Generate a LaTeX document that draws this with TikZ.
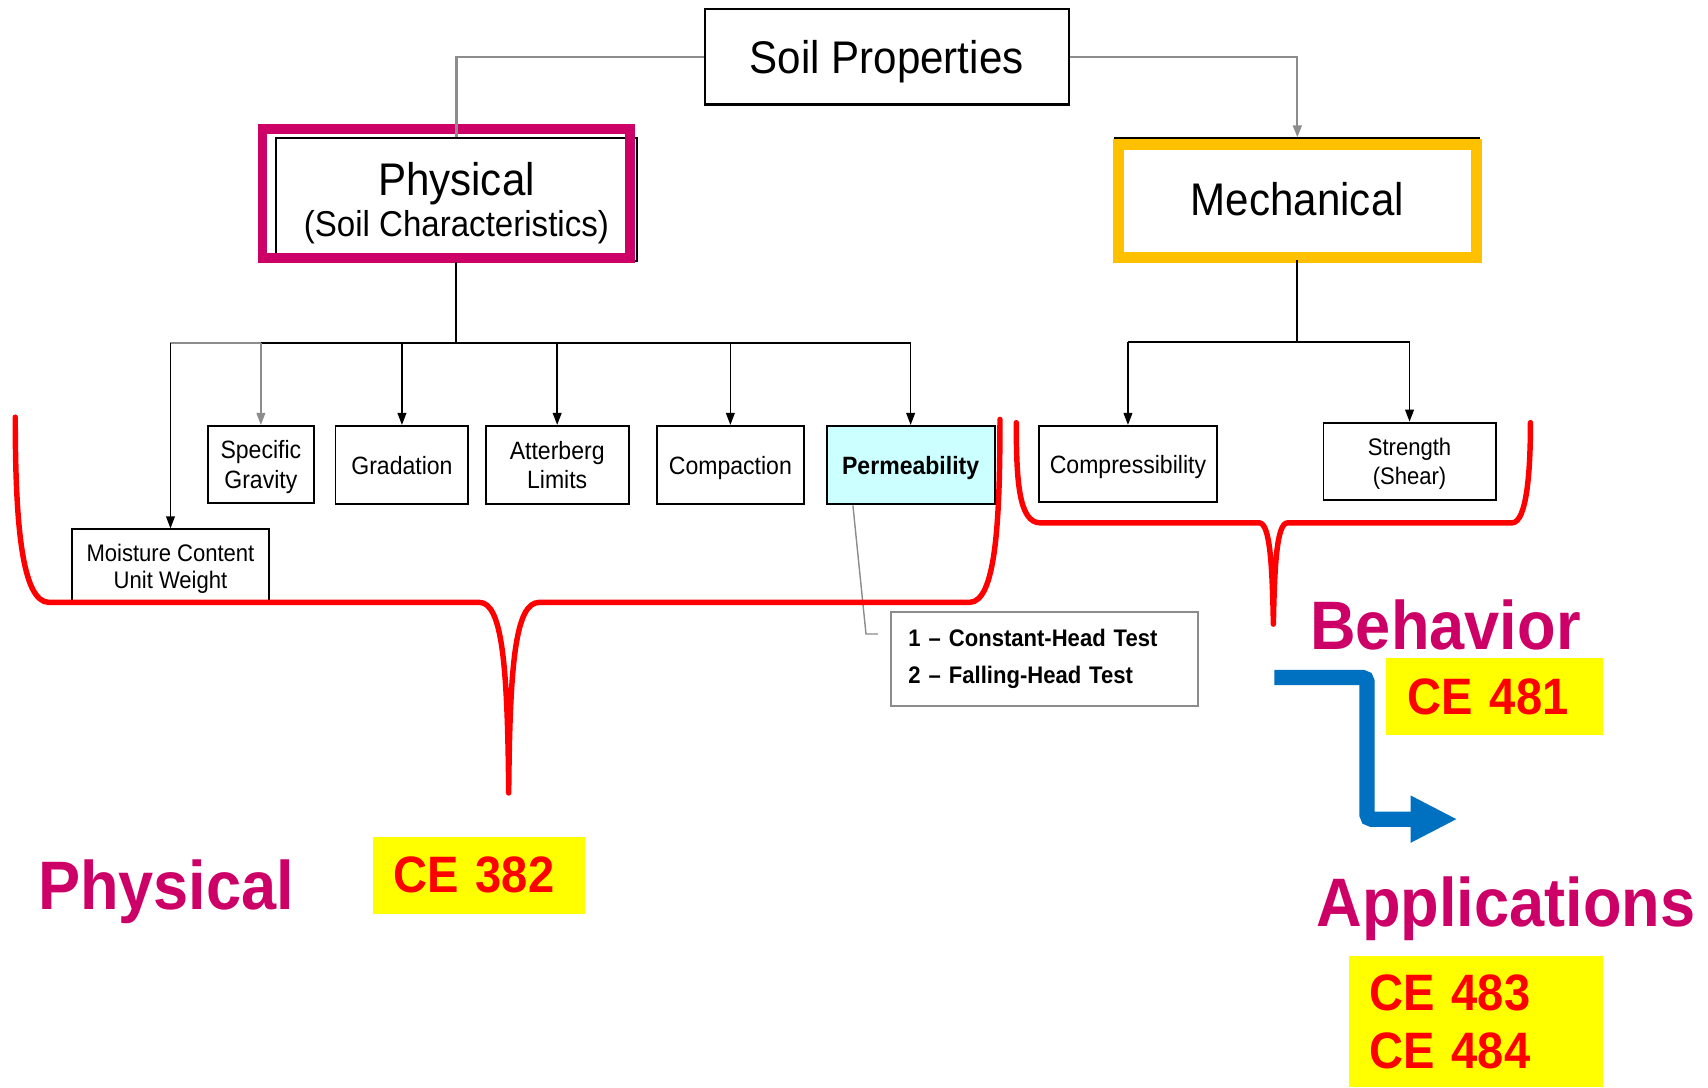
\documentclass[tikz,border=0pt]{standalone}
\usepackage{fontspec}
\setmainfont{Liberation Sans}[FakeStretch=0.92]
\usetikzlibrary{arrows.meta}
\definecolor{pinkc}{HTML}{CC0066}
\definecolor{orangec}{HTML}{FFC000}
\definecolor{bluec}{HTML}{0070C0}
\definecolor{cyanc}{HTML}{CCFFFF}
\definecolor{grayc}{HTML}{8C8C8C}
\definecolor{redc}{HTML}{FF0000}
\definecolor{yellowc}{HTML}{FFFF00}
\begin{document}
\begin{tikzpicture}[x=1pt,y=-1pt,
  box/.style={draw=black,line width=1.8pt,inner sep=0pt,align=center,text depth=0pt,font=\fontsize{23}{27}\selectfont},
  arr/.style={-{Triangle[length=11pt,width=8pt]},line width=1.4pt},
  conn/.style={line width=1.8pt},
  brace/.style={draw=redc,line width=5pt,line cap=round,line join=round},
  biglab/.style={text=pinkc,font=\bfseries\fontsize{63}{63}\selectfont,inner sep=0pt,text depth=0pt},
  course/.style={fill=yellowc,text=redc,font=\bfseries\fontsize{47}{53}\selectfont,align=left,inner ysep=0pt}
]
\useasboundingbox (0,0) rectangle (1568,998);

% top node
\node[box,line width=2pt,minimum width=334pt,minimum height=88pt,font=\fontsize{42}{42}\selectfont] (soil) at (814,52) {Soil Properties};

% Physical and Mechanical
\node[box,minimum width=332pt,minimum height=113pt] (phys) at (419,183.5)
  {{\fontsize{42}{42}\selectfont Physical}\\[4pt]{\fontsize{33}{33}\selectfont (Soil Characteristics)}};
\draw[pinkc,line width=9pt] (241,118.5) rectangle (578,236.5);
\node[box,minimum width=334pt,minimum height=111pt,font=\fontsize{42}{42}\selectfont] (mech) at (1191,182.5) {Mechanical};
\draw[orangec,line width=10pt] (1026.5,132.5) rectangle (1355.5,236.5);

\draw[grayc,line width=2pt] (soil.west) -| (phys.north);
\draw[grayc,arr,line width=2pt] (soil.east) -| (mech.north);

% physical children
\node[box,minimum width=97pt,minimum height=71pt] (sg) at (239.5,426.5) {Specific\\Gravity};
\node[box,minimum width=122pt,minimum height=72pt] (grad) at (369,427) {Gradation};
\node[box,minimum width=131pt,minimum height=72pt] (att) at (511.5,427) {Atterberg\\Limits};
\node[box,minimum width=135pt,minimum height=72pt] (compa) at (670.5,427) {Compaction};
\node[box,fill=cyanc,minimum width=154pt,minimum height=72pt,font=\bfseries\fontsize{23}{27}\selectfont] (perm) at (836,427) {Permeability};
\node[box,minimum width=181pt,minimum height=68pt,font=\fontsize{22}{25}\selectfont] (mc) at (156.5,520) {Moisture Content\\Unit Weight};

\draw[conn] (phys.south) -- (419,315) coordinate (pj);
\draw[grayc,line width=2pt] (mc.north |- pj) -- (sg.north |- pj);
\draw[conn] (sg.north |- pj) -- (perm.north |- pj);
\draw[arr] (mc.north |- pj) -- (mc.north);
\draw[arr,grayc] (sg.north |- pj) -- (sg.north);
\draw[arr] (grad.north |- pj) -- (grad.north);
\draw[arr] (att.north |- pj) -- (att.north);
\draw[arr] (compa.north |- pj) -- (compa.north);
\draw[arr] (perm.north |- pj) -- (perm.north);

% mechanical children
\node[box,minimum width=163pt,minimum height=70pt] (compr) at (1035.5,426) {Compressibility};
\node[box,minimum width=158pt,minimum height=71pt,font=\fontsize{22}{27}\selectfont] (str) at (1294,423.5) {Strength\\(Shear)};
\draw[conn] (mech.south) -- (1191,314) coordinate (mj);
\draw[conn] (compr.north |- mj) -- (str.north |- mj);
\draw[arr] (compr.north |- mj) -- (compr.north);
\draw[arr] (str.north |- mj) -- (str.north);

% permeability tests callout
\node[draw=grayc,line width=2pt,minimum width=282pt,minimum height=86pt,inner xsep=16pt,text width=250pt,align=left,
  font=\bfseries\fontsize{22}{34}\selectfont] (tests) at (959,605)
  {1 – Constant-Head Test\\2 – Falling-Head Test};
\coordinate (pc) at (783,464);
\coordinate (pe) at (806,582);
\draw[grayc,line width=1.3pt] (pc) -- (795,582) -- (pe);

% red braces
\draw[brace] (14,383) .. controls (14,480) and (20,553) .. (45,553) -- (440,553)
  .. controls (461,553) and (466,610) .. (467,728)
  .. controls (468,610) and (473,553) .. (495,553) -- (890,553)
  .. controls (914,553) and (918,480) .. (918,385);
\draw[brace] (933,388) .. controls (933,440) and (935,480) .. (955,480) -- (1156,480)
  .. controls (1166,480) and (1168,520) .. (1169,573)
  .. controls (1170,520) and (1172,480) .. (1182,480) -- (1388,480)
  .. controls (1402,480) and (1405,430) .. (1405,388);

% labels
\node[biglab] (lphys) at (152.5,812) {Physical};
\node[biglab] (lbeh) at (1327,573) {Behavior};
\node[biglab] (lapp) at (1382.5,828) {Applications};

\node[course,minimum width=195pt,minimum height=71pt,inner xsep=19pt,text width=157pt] (ce382) at (439.5,803.5) {CE 382};
\node[course,minimum width=200pt,minimum height=71pt,inner xsep=20pt,text width=160pt] (ce481) at (1372,639.5) {CE 481};
\node[course,minimum width=234pt,minimum height=120pt,inner xsep=19pt,text width=196pt] (ce483) at (1355,938) {CE 483\\CE 484};

% blue arrow
\coordinate (bs) at (1170,622);
\coordinate (be) at (1338,752);
\draw[bluec,line width=14pt,rounded corners=4pt,-{Triangle[length=43pt,width=40pt]}] (bs) -| (1255,752) -- (be);
\end{tikzpicture}
\end{document}
